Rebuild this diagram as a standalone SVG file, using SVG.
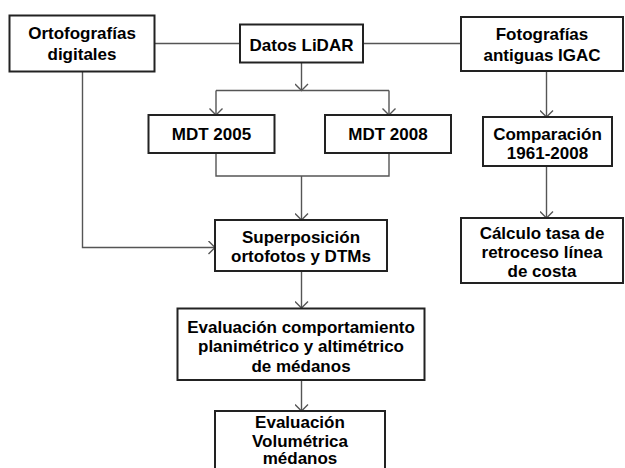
<svg xmlns="http://www.w3.org/2000/svg" width="625" height="468" viewBox="0 0 625 468">
<defs>
<style>
.box{fill:#fff;stroke:#222;stroke-width:2}
.t{font-family:"Liberation Sans",Arial,sans-serif;font-weight:bold;font-size:17px;fill:#000;text-anchor:middle}
.c{fill:none;stroke:#555;stroke-width:1.4}
</style>
<marker id="a" viewBox="-8 -7 9 14" markerWidth="9" markerHeight="14" refX="0" refY="0" orient="auto" markerUnits="userSpaceOnUse">
<path d="M-6.5,-6.5 L0,0 L-6.5,6.5" fill="none" stroke="#555" stroke-width="1.4"/>
</marker>
</defs>
<rect width="625" height="468" fill="#fff"/>
<g id="connectors">
<line class="c" x1="155" y1="43.5" x2="240" y2="43.5"/>
<line class="c" x1="363" y1="43.5" x2="461" y2="43.5"/>
<line class="c" x1="301.5" y1="63" x2="301.5" y2="90.5" marker-end="url(#a)"/>
<line class="c" x1="216" y1="90.5" x2="389" y2="90.5"/>
<line class="c" x1="216" y1="90.5" x2="216" y2="115" marker-end="url(#a)"/>
<line class="c" x1="389" y1="90.5" x2="389" y2="115" marker-end="url(#a)"/>
<polyline class="c" points="216,153 216,176 389,176 389,153"/>
<line class="c" x1="301.5" y1="176" x2="301.5" y2="220" marker-end="url(#a)"/>
<polyline class="c" points="82.5,72 82.5,247.5 215,247.5" marker-end="url(#a)"/>
<line class="c" x1="546.5" y1="71" x2="546.5" y2="117" marker-end="url(#a)"/>
<line class="c" x1="546.5" y1="166" x2="546.5" y2="218" marker-end="url(#a)"/>
<line class="c" x1="301.5" y1="271" x2="301.5" y2="308" marker-end="url(#a)"/>
<line class="c" x1="301.5" y1="380" x2="301.5" y2="411" marker-end="url(#a)"/>
</g>
<g id="ortofografias">
<rect class="box" x="9.5" y="15.5" width="145" height="56"/>
<text class="t" x="82" y="39">Ortofografías</text>
<text class="t" x="82" y="59.5">digitales</text>
</g>
<g id="lidar">
<rect class="box" x="240" y="24.5" width="123" height="38"/>
<text class="t" x="301.5" y="50.5">Datos LiDAR</text>
</g>
<g id="fotografias">
<rect class="box" x="461" y="17" width="162" height="54"/>
<text class="t" x="542" y="39.5">Fotografías</text>
<text class="t" x="542" y="60.5">antiguas IGAC</text>
</g>
<g id="mdt2005">
<rect class="box" x="148.5" y="115" width="126" height="38"/>
<text class="t" x="211.5" y="140">MDT 2005</text>
</g>
<g id="mdt2008">
<rect class="box" x="325" y="115" width="126" height="38"/>
<text class="t" x="388" y="140">MDT 2008</text>
</g>
<g id="comparacion">
<rect class="box" x="483" y="117" width="129" height="49"/>
<text class="t" x="547.5" y="139.5">Comparación</text>
<text class="t" x="547.5" y="158.5">1961-2008</text>
</g>
<g id="superposicion">
<rect class="box" x="215" y="220" width="172" height="51"/>
<text class="t" x="301" y="243">Superposición</text>
<text class="t" x="301" y="261.5">ortofotos y DTMs</text>
</g>
<g id="calculo">
<rect class="box" x="461" y="218" width="162" height="65"/>
<text class="t" x="542" y="238.5">Cálculo tasa de</text>
<text class="t" x="542" y="258">retroceso línea</text>
<text class="t" x="542" y="277">de costa</text>
</g>
<g id="evaluacion-comportamiento">
<rect class="box" x="177.5" y="308.5" width="247" height="71.5"/>
<text class="t" x="301" y="332.5">Evaluación comportamiento</text>
<text class="t" x="301" y="352">planimétrico y altimétrico</text>
<text class="t" x="301" y="371.5">de médanos</text>
</g>
<g id="evaluacion-volumetrica">
<rect class="box" x="215" y="411" width="170" height="64"/>
<text class="t" x="300" y="428">Evaluación</text>
<text class="t" x="300" y="446.5">Volumétrica</text>
<text class="t" x="300" y="464">médanos</text>
</g>
</svg>
